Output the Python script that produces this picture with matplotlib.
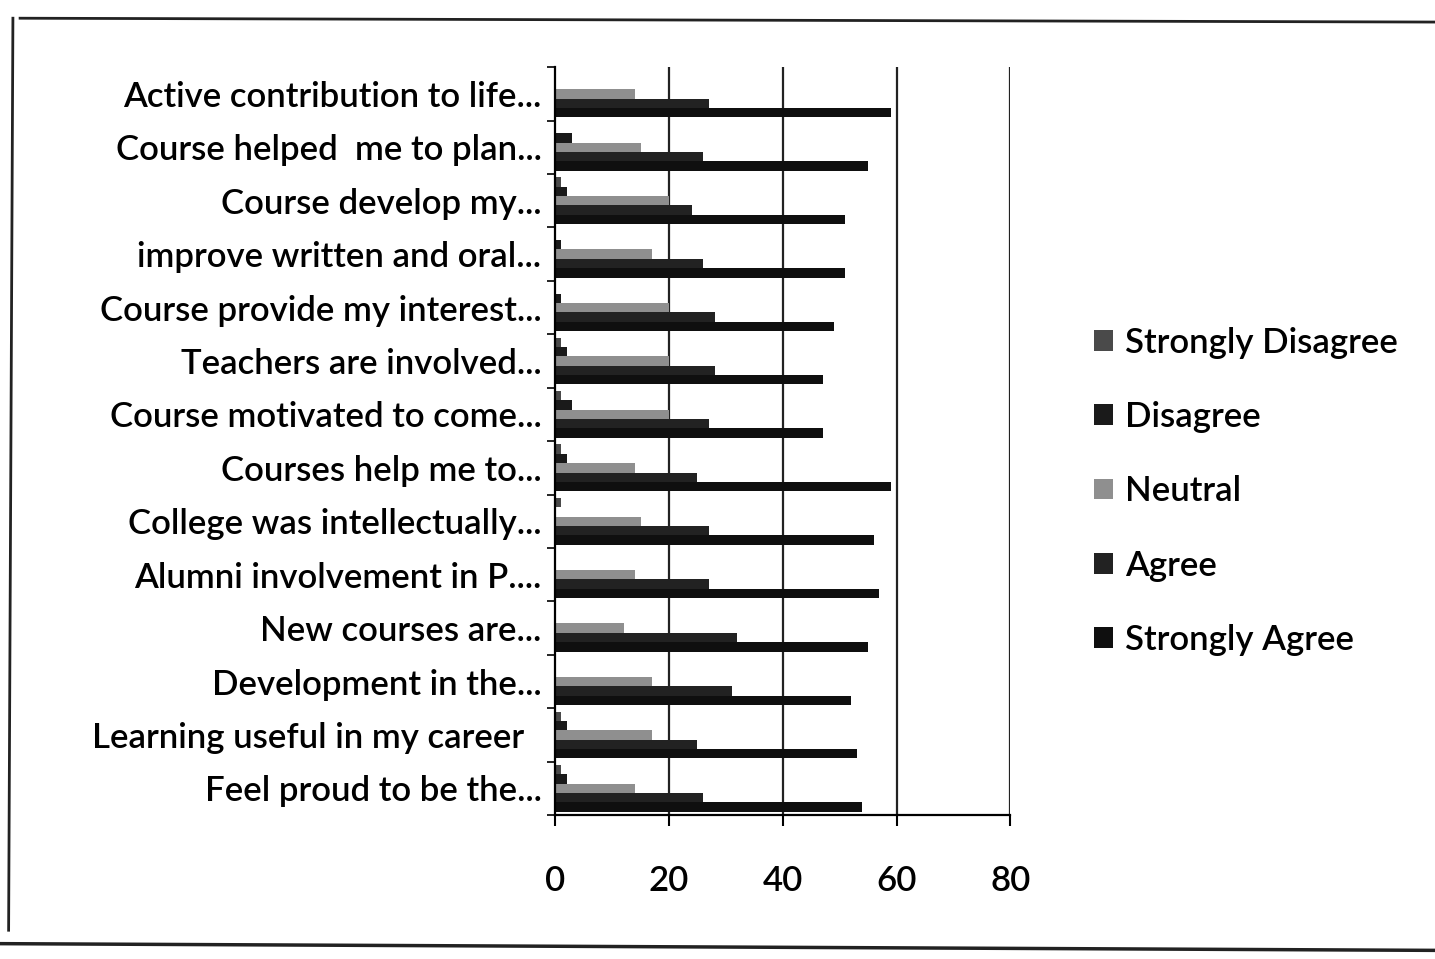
import matplotlib.pyplot as plt
import numpy as np
from matplotlib.lines import Line2D

# --- Survey data (top to bottom as shown) --- #
statements = [
    "Active contribution to life...",
    "Course helped  me to plan...",
    "Course develop my...",
    "improve written and oral...",
    "Course provide my interest...",
    "Teachers are involved...",
    "Course motivated to come...",
    "Courses help me to...",
    "College was intellectually...",
    "Alumni involvement in P....",
    "New courses are...",
    "Development in the...",
    "Learning useful in my career  ",
    "Feel proud to be the...",
]
strongly_disagree = [0, 0, 1, 0, 0, 1, 1, 1, 1, 0, 0, 0, 1, 1]
disagree = [0, 3, 2, 1, 1, 2, 3, 2, 0, 0, 0, 0, 2, 2]
neutral = [14, 15, 20, 17, 20, 20, 20, 14, 15, 14, 12, 17, 17, 14]
agree = [27, 26, 24, 26, 28, 28, 27, 25, 27, 27, 32, 31, 25, 26]
strongly_agree = [59, 55, 51, 51, 49, 47, 47, 59, 56, 57, 55, 52, 53, 54]

series = ["Strongly Disagree", "Disagree", "Neutral", "Agree", "Strongly Agree"]
values = [strongly_disagree, disagree, neutral, agree, strongly_agree]
colors = ["#4a4a4a", "#1a1a1a", "#8f8f8f", "#222222", "#0f0f0f"]

plt.rcParams["font.family"] = ["Lato", "DejaVu Sans"]
plt.rcParams["font.weight"] = "semibold"

fig = plt.figure(figsize=(14.35, 9.59), dpi=100)
ax = fig.add_axes([0.387, 0.15, 0.317, 0.78])

y = np.arange(len(statements))
bar_h = 0.175
for i, (name, vals, col) in enumerate(zip(series, values, colors)):
    ax.barh(y + (i - 2) * bar_h, vals, height=bar_h, color=col, label=name)

ax.set_xlim(0, 80)
ax.set_ylim(len(statements) - 0.5, -0.5)
ax.set_xticks([0, 20, 40, 60, 80])
ax.tick_params(axis="x", labelsize=25, pad=28, length=8, width=1.5, direction="out")
ax.set_yticks(y)
ax.set_yticklabels(statements, fontsize=25)
ax.tick_params(axis="y", length=0, pad=10)
ax.set_yticks(np.arange(-0.5, len(statements), 1), minor=True)
ax.tick_params(axis="y", which="minor", length=6, width=1.2)

for v in [20, 40, 60, 80]:
    ax.axvline(v, color="#222222", lw=1.6, zorder=0)
for side in ["top", "right"]:
    ax.spines[side].set_visible(False)
ax.spines["left"].set_linewidth(1.6)
ax.spines["bottom"].set_linewidth(1.6)

ax.legend(loc="center left", bbox_to_anchor=(1.115, 0.433), frameon=False, fontsize=25,
          handlelength=0.55, handleheight=0.55, handletextpad=0.35, labelspacing=1.22)

# scanned page frame
fig.add_artist(Line2D([0.014, 1.0], [0.981, 0.977], color="#222222", lw=2))
fig.add_artist(Line2D([0.009, 0.006], [0.981, 0.03], color="#222222", lw=2))
fig.add_artist(Line2D([0.0, 1.0], [0.016, 0.009], color="#222222", lw=2.5))

fig.savefig("out.png", dpi=100, facecolor="white")
